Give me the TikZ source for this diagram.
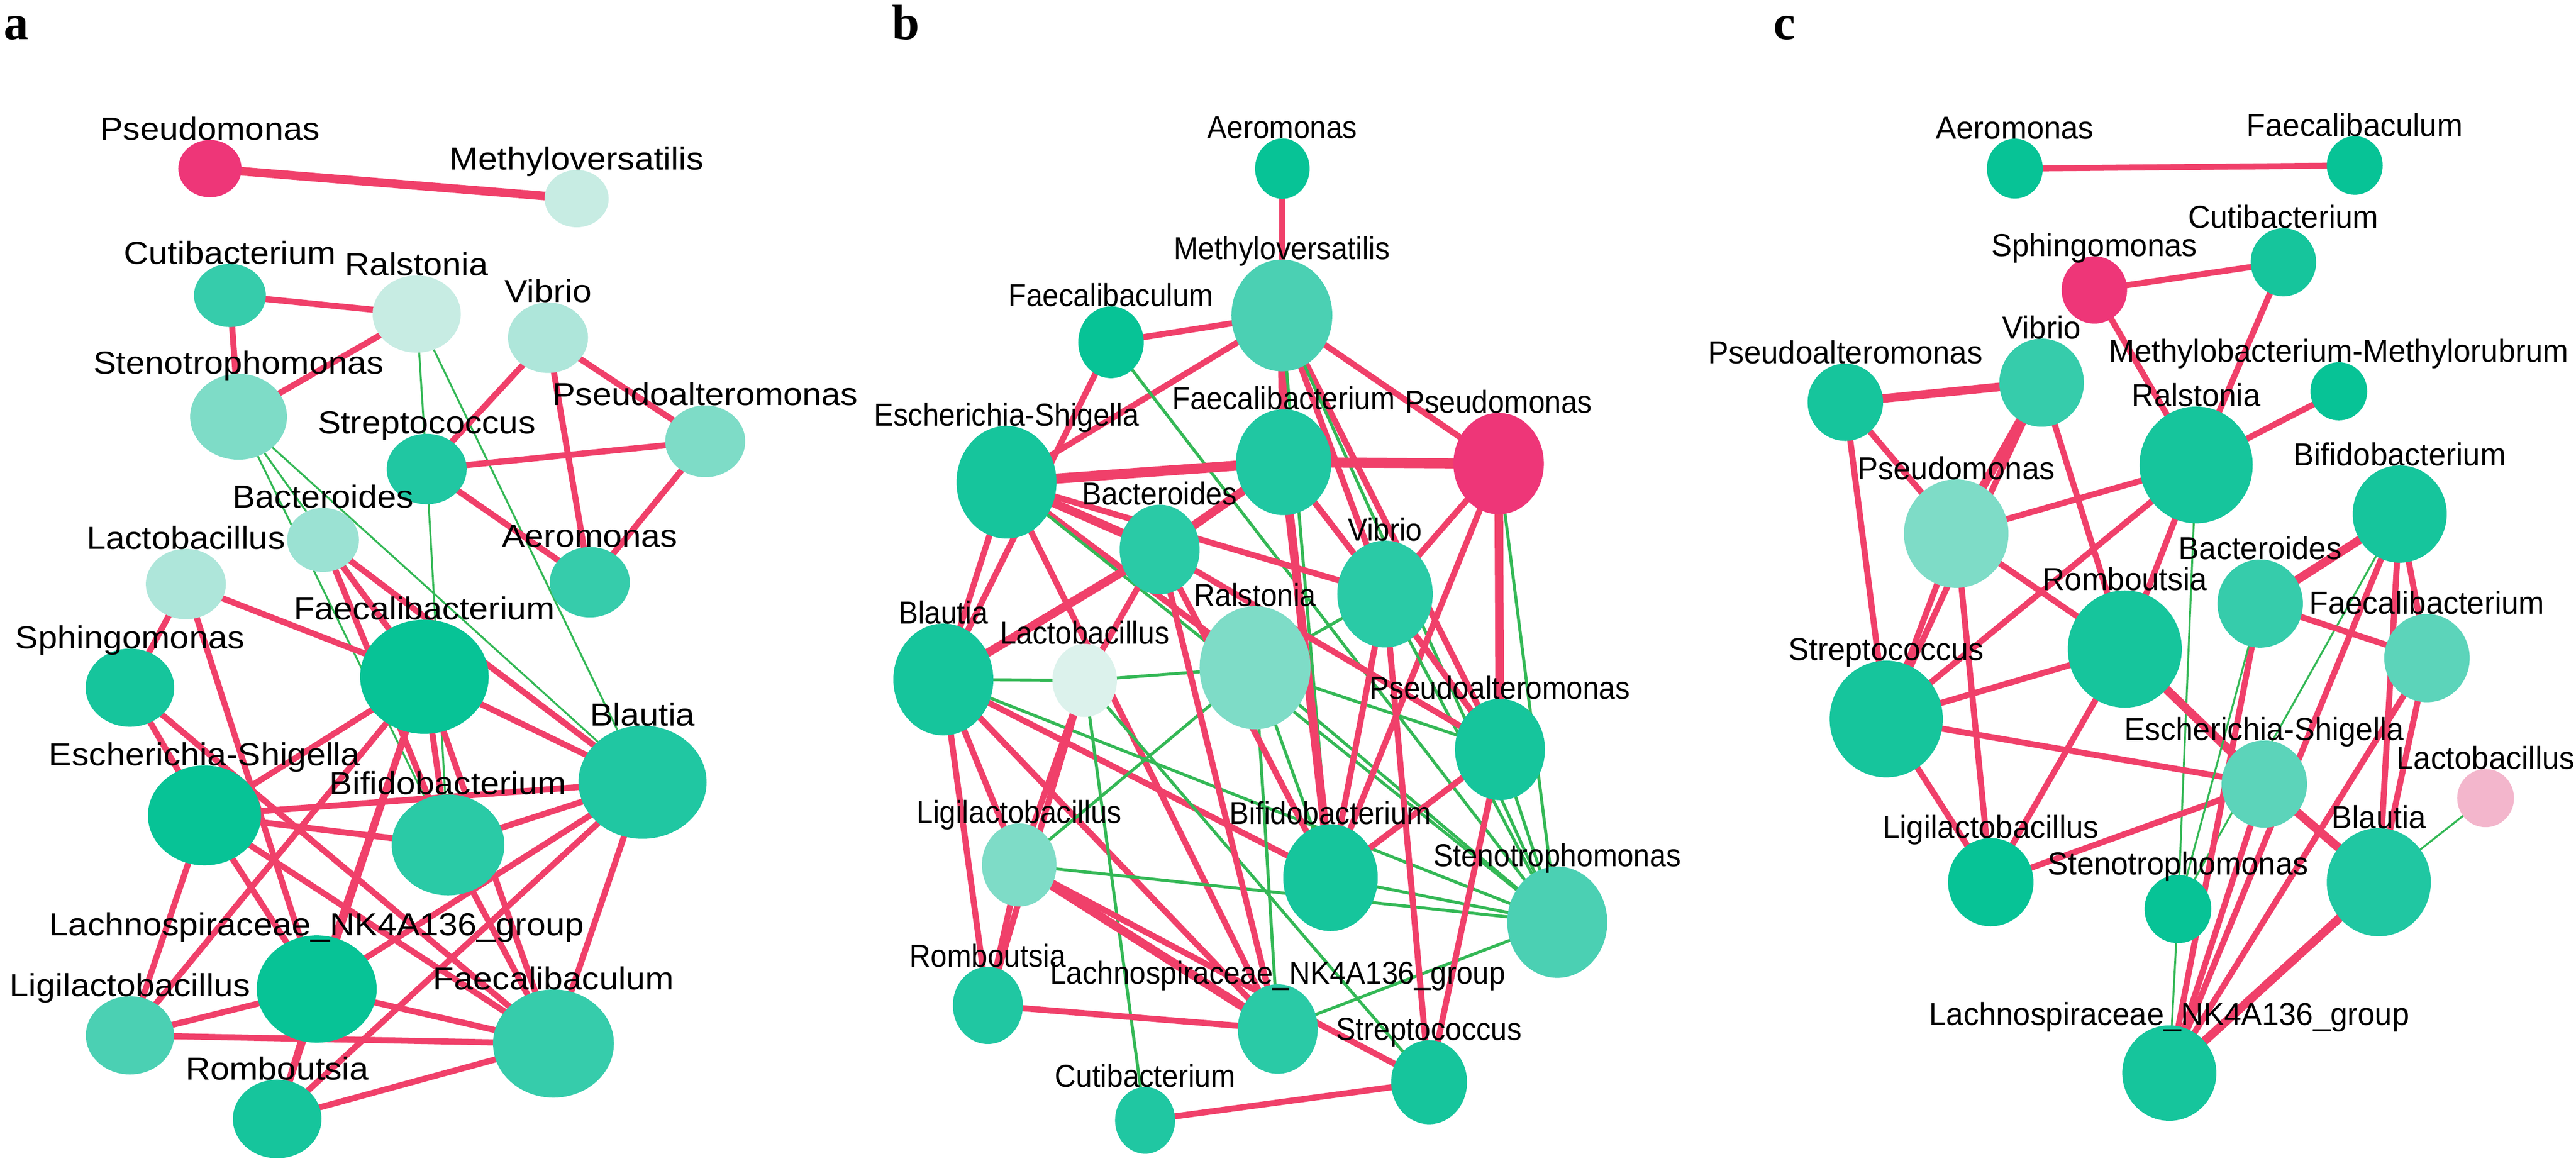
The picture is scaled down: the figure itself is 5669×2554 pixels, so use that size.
\documentclass[tikz,border=0pt]{standalone}
\usepackage{fontspec}
\usetikzlibrary{shapes.geometric}
\newfontfamily\fa[FakeStretch=1.08]{Liberation Sans}
\newfontfamily\fb[FakeStretch=0.92]{Liberation Sans}
\newfontfamily\fc[FakeStretch=0.97]{Liberation Sans}
\newfontfamily\fletter{Liberation Serif}
\definecolor{redE}{RGB}{240,64,106}
\definecolor{grnE}{RGB}{52,184,86}
\definecolor{mag}{HTML}{EE3678}
\definecolor{pinkL}{HTML}{F3B6CC}
\definecolor{tA}{HTML}{07C396}
\definecolor{tB}{HTML}{16C59C}
\definecolor{tC}{HTML}{20C7A2}
\definecolor{tD}{HTML}{2ACAA6}
\definecolor{tE}{HTML}{36CCAB}
\definecolor{tF}{HTML}{4BD0B3}
\definecolor{tG}{HTML}{5CD4BA}
\definecolor{tH}{HTML}{7EDCC7}
\definecolor{tI}{HTML}{9BE2D3}
\definecolor{tJ}{HTML}{AEE6DA}
\definecolor{tK}{HTML}{C7ECE3}
\definecolor{tL}{HTML}{DCF2EC}
\pgfdeclarelayer{edges}
\pgfsetlayers{edges,main}
\tikzset{
  bub/.style={ellipse,inner sep=0pt,draw=none},
  lab/.style={anchor=base,inner sep=0pt},
  re/.style={draw=redE,line width=3.8pt},
  rt/.style={draw=redE,line width=5.4pt},
  rx/.style={draw=redE,line width=6.3pt},
  ge/.style={draw=grnE,line width=1.2pt},
  gb/.style={draw=grnE,line width=1.9pt},
  letter/.style={anchor=base west,inner sep=0pt,font=\fletter\bfseries\fontsize{31}{34}\selectfont}
}
\newcommand\nd[8]{%
  \node[bub,fill=#6,minimum width=#4*0.01cm,minimum height=#5*0.01cm] (#1) at (#2,#3) {};
  \node[lab,font=#7\fontsize{19.9}{22}\selectfont] (#1l) at (#2,{#3-#5/2}) {#8};}
\newcommand\ed[3]{\draw[#1] (#2.center) -- (#3.center);}
\begin{document}
\begin{tikzpicture}[x=0.01cm,y=-0.01cm]
\useasboundingbox (0,0) rectangle (5669,2554);
\node[letter] (la) at (8,87) {a};
\node[letter] (lb) at (1962,87) {b};
\node[letter] (lc) at (3902,87) {c};
% ---------------- panel a
\nd{aPse}{462}{371}{139}{126}{mag}{\fa}{Pseudomonas}
\nd{aMet}{1269}{437}{141}{126}{tK}{\fa}{Methyloversatilis}
\nd{aCut}{506}{650}{158}{139}{tE}{\fa}{Cutibacterium}
\nd{aRal}{917}{691}{194}{170}{tK}{\fa}{Ralstonia}
\nd{aVib}{1206}{743}{176}{155}{tJ}{\fa}{Vibrio}
\nd{aSte}{525}{917}{213}{189}{tH}{\fa}{Stenotrophomonas}
\nd{aStr}{939}{1032}{176}{155}{tC}{\fa}{Streptococcus}
\nd{aPal}{1552}{971}{176}{158}{tH}{\fa}{Pseudoalteromonas}
\nd{aBac}{711}{1188}{158}{141}{tI}{\fa}{Bacteroides}
\nd{aAer}{1298}{1281}{176}{155}{tE}{\fa}{Aeromonas}
\nd{aLac}{409}{1285}{176}{155}{tJ}{\fa}{Lactobacillus}
\nd{aFbt}{934}{1489}{283}{251}{tA}{\fa}{Faecalibacterium}
\nd{aSph}{286}{1513}{195}{172}{tB}{\fa}{Sphingomonas}
\nd{aBla}{1414}{1721}{282}{249}{tC}{\fa}{Blautia}
\nd{aEsc}{450}{1794}{249}{220}{tA}{\fa}{Escherichia-Shigella}
\nd{aBif}{986}{1859}{248}{222}{tD}{\fa}{Bifidobacterium}
\nd{aLach}{697}{2176}{264}{236}{tA}{\fa}{Lachnospiraceae\_NK4A136\_group}
\nd{aLig}{286}{2278}{194}{172}{tF}{\fa}{Ligilactobacillus}
\nd{aFbm}{1218}{2296}{266}{238}{tE}{\fa}{Faecalibaculum}
\nd{aRom}{610}{2462}{195}{173}{tB}{\fa}{Romboutsia}
% ---------------- panel b
\nd{bAer}{2822}{371}{120}{133}{tA}{\fb}{Aeromonas}
\nd{bMet}{2821}{694}{222}{246}{tF}{\fb}{Methyloversatilis}
\nd{bFbm}{2445}{753}{144}{158}{tA}{\fb}{Faecalibaculum}
\nd{bEsc}{2215}{1061}{220}{248}{tB}{\fb}{Escherichia-Shigella}
\nd{bFbt}{2825}{1017}{210}{233}{tC}{\fb}{Faecalibacterium}
\nd{bPse}{3298}{1020}{199}{223}{mag}{\fb}{Pseudomonas}
\nd{bBac}{2552}{1209}{176}{197}{tD}{\fb}{Bacteroides}
\nd{bVib}{3048}{1307}{210}{235}{tD}{\fb}{Vibrio}
\nd{bBla}{2076}{1495}{220}{246}{tB}{\fb}{Blautia}
\nd{bLac}{2387}{1497}{142}{161}{tL}{\fb}{Lactobacillus}
\nd{bRal}{2762}{1469}{244}{271}{tH}{\fb}{Ralstonia}
\nd{bPal}{3301}{1649}{198}{223}{tB}{\fb}{Pseudoalteromonas}
\nd{bLig}{2243}{1903}{164}{183}{tH}{\fb}{Ligilactobacillus}
\nd{bBif}{2928}{1931}{208}{235}{tB}{\fb}{Bifidobacterium}
\nd{bSte}{3427}{2029}{220}{245}{tF}{\fb}{Stenotrophomonas}
\nd{bRom}{2174}{2212}{154}{170}{tC}{\fb}{Romboutsia}
\nd{bLach}{2812}{2264}{176}{197}{tD}{\fb}{Lachnospiraceae\_NK4A136\_group}
\nd{bStr}{3145}{2381}{167}{185}{tB}{\fb}{Streptococcus}
\nd{bCut}{2520}{2465}{132}{147}{tC}{\fb}{Cutibacterium}
% ---------------- panel c
\nd{cAer}{4434}{371}{123}{132}{tA}{\fc}{Aeromonas}
\nd{cFbm}{5182}{364}{123}{129}{tA}{\fc}{Faecalibaculum}
\nd{cSph}{4609}{638}{144}{148}{mag}{\fc}{Sphingomonas}
\nd{cCut}{5025}{577}{144}{150}{tB}{\fc}{Cutibacterium}
\nd{cPal}{4061}{885}{166}{170}{tB}{\fc}{Pseudoalteromonas}
\nd{cVib}{4493}{842}{186}{194}{tE}{\fc}{Vibrio}
\nd{cMby}{5147}{861}{125}{128}{tA}{\fc}{Methylobacterium-Methylorubrum}
\nd{cRal}{4833}{1023}{249}{257}{tB}{\fc}{Ralstonia}
\nd{cPsm}{4305}{1174}{230}{239}{tH}{\fc}{Pseudomonas}
\nd{cBif}{5281}{1131}{207}{214}{tB}{\fc}{Bifidobacterium}
\nd{cBac}{4974}{1328}{188}{194}{tE}{\fc}{Bacteroides}
\nd{cRom}{4676}{1428}{251}{258}{tB}{\fc}{Romboutsia}
\nd{cFbt}{5341}{1448}{188}{194}{tG}{\fc}{Faecalibacterium}
\nd{cStr}{4151}{1582}{249}{257}{tB}{\fc}{Streptococcus}
\nd{cEsc}{4983}{1725}{188}{192}{tG}{\fc}{Escherichia-Shigella}
\nd{cLac}{5470}{1756}{125}{128}{pinkL}{\fc}{Lactobacillus}
\nd{cLig}{4381}{1941}{188}{194}{tA}{\fc}{Ligilactobacillus}
\nd{cBla}{5235}{1941}{229}{238}{tC}{\fc}{Blautia}
\nd{cSte}{4793}{2000}{147}{150}{tA}{\fc}{Stenotrophomonas}
\nd{cLach}{4774}{2361}{207}{210}{tB}{\fc}{Lachnospiraceae\_NK4A136\_group}
\begin{pgfonlayer}{edges}
% panel a
\ed{rt}{aPse}{aMet}
\ed{re}{aCut}{aRal}\ed{re}{aCut}{aSte}\ed{re}{aRal}{aSte}
\ed{ge}{aRal}{aStr}\ed{ge}{aStr}{aBif}\ed{ge}{aRal}{aBla}
\ed{re}{aVib}{aStr}\ed{re}{aVib}{aPal}\ed{re}{aVib}{aAer}
\ed{re}{aStr}{aPal}\ed{re}{aStr}{aAer}\ed{re}{aPal}{aAer}
\ed{ge}{aSte}{aBif}\ed{ge}{aSte}{aFbt}\ed{ge}{aSte}{aBla}
\ed{re}{aBac}{aFbt}\ed{re}{aBac}{aBif}\ed{re}{aBac}{aBla}
\ed{re}{aLac}{aSph}\ed{re}{aLac}{aFbt}\ed{re}{aLac}{aLach}
\ed{re}{aSph}{aEsc}\ed{re}{aSph}{aFbm}
\ed{re}{aEsc}{aFbt}\ed{re}{aEsc}{aBla}\ed{re}{aEsc}{aBif}\ed{re}{aEsc}{aLig}
\ed{re}{aEsc}{aLach}\ed{re}{aEsc}{aFbm}
\ed{re}{aFbt}{aBla}\ed{re}{aFbt}{aLig}\ed{re}{aFbt}{aLach}\ed{re}{aFbt}{aRom}
\ed{re}{aFbt}{aBif}\ed{re}{aFbt}{aFbm}
\ed{re}{aBla}{aBif}\ed{re}{aBla}{aLach}\ed{re}{aBla}{aRom}\ed{re}{aBla}{aFbm}
\ed{re}{aBif}{aFbm}\ed{re}{aLach}{aLig}\ed{re}{aLach}{aFbm}\ed{re}{aLach}{aRom}
\ed{re}{aLig}{aFbm}\ed{re}{aRom}{aFbm}
% panel b
\ed{re}{bAer}{bMet}\ed{re}{bMet}{bFbm}\ed{re}{bMet}{bEsc}\ed{re}{bMet}{bPse}
\ed{rt}{bMet}{bFbt}\ed{gb}{bMet}{bBif}\ed{re}{bMet}{bVib}\ed{re}{bMet}{bPal}\ed{gb}{bMet}{bSte}
\ed{re}{bFbm}{bBla}\ed{gb}{bFbm}{bSte}
\ed{rx}{bEsc}{bFbt}\ed{rx}{bFbt}{bPse}\ed{rt}{bEsc}{bBac}\ed{re}{bEsc}{bBla}
\ed{re}{bEsc}{bVib}\ed{re}{bEsc}{bRal}\ed{gb}{bEsc}{bSte}\ed{re}{bEsc}{bLach}
\ed{gb}{bBla}{bLac}\ed{gb}{bLac}{bRal}\ed{rt}{bBla}{bBac}\ed{gb}{bBla}{bSte}
\ed{re}{bBla}{bBif}\ed{re}{bBla}{bLach}\ed{re}{bBla}{bLig}\ed{re}{bBla}{bRom}
\ed{re}{bLac}{bBac}\ed{re}{bLac}{bLig}\ed{re}{bLac}{bRom}\ed{gb}{bLac}{bCut}\ed{gb}{bLac}{bStr}
\ed{gb}{bRal}{bLig}\ed{gb}{bRal}{bLach}\ed{gb}{bRal}{bBif}\ed{gb}{bRal}{bVib}
\ed{gb}{bRal}{bPal}\ed{gb}{bRal}{bSte}
\ed{gb}{bLig}{bSte}\ed{gb}{bBif}{bSte}\ed{rt}{bLig}{bLach}\ed{re}{bLig}{bStr}
\ed{re}{bLig}{bRom}\ed{re}{bRom}{bLach}\ed{re}{bCut}{bStr}\ed{gb}{bLach}{bSte}
\ed{re}{bBac}{bLach}\ed{rt}{bFbt}{bBif}\ed{re}{bFbt}{bVib}\ed{rt}{bFbt}{bBac}
\ed{gb}{bPse}{bVib}\ed{re}{bPse}{bVib}\ed{re}{bPse}{bBif}\ed{rt}{bPse}{bPal}\ed{gb}{bPse}{bSte}
\ed{re}{bVib}{bBif}\ed{re}{bVib}{bStr}\ed{re}{bVib}{bPal}\ed{gb}{bVib}{bSte}
\ed{re}{bPal}{bBif}\ed{re}{bPal}{bStr}\ed{gb}{bPal}{bSte}
\ed{re}{bBac}{bPal}\ed{re}{bBac}{bBif}
% panel c
\ed{re}{cAer}{cFbm}\ed{re}{cSph}{cCut}\ed{re}{cSph}{cRal}\ed{re}{cCut}{cRal}
\ed{rt}{cPal}{cVib}\ed{re}{cPal}{cPsm}\ed{re}{cPal}{cStr}
\ed{rt}{cVib}{cPsm}\ed{re}{cVib}{cStr}\ed{re}{cPsm}{cStr}\ed{re}{cVib}{cRom}
\ed{re}{cPsm}{cRal}\ed{re}{cPsm}{cRom}\ed{re}{cPsm}{cLig}
\ed{re}{cRal}{cMby}\ed{re}{cRal}{cStr}\ed{re}{cRal}{cRom}
\ed{ge}{cRal}{cSte}\ed{ge}{cSte}{cLach}
\ed{re}{cStr}{cRom}\ed{re}{cStr}{cEsc}\ed{re}{cStr}{cLig}
\ed{re}{cRom}{cLig}\ed{rt}{cRom}{cEsc}\ed{re}{cLig}{cEsc}
\ed{rt}{cBif}{cBac}\ed{re}{cBif}{cFbt}\ed{re}{cBif}{cBla}\ed{re}{cFbt}{cBla}
\ed{ge}{cBif}{cSte}\ed{re}{cBif}{cLach}\ed{re}{cFbt}{cBac}\ed{re}{cFbt}{cLach}
\ed{rt}{cEsc}{cBla}\ed{re}{cEsc}{cLach}\ed{re}{cBac}{cLach}\ed{ge}{cBac}{cSte}
\ed{ge}{cBla}{cLac}\ed{rt}{cBla}{cLach}
\end{pgfonlayer}
\end{tikzpicture}
\end{document}
